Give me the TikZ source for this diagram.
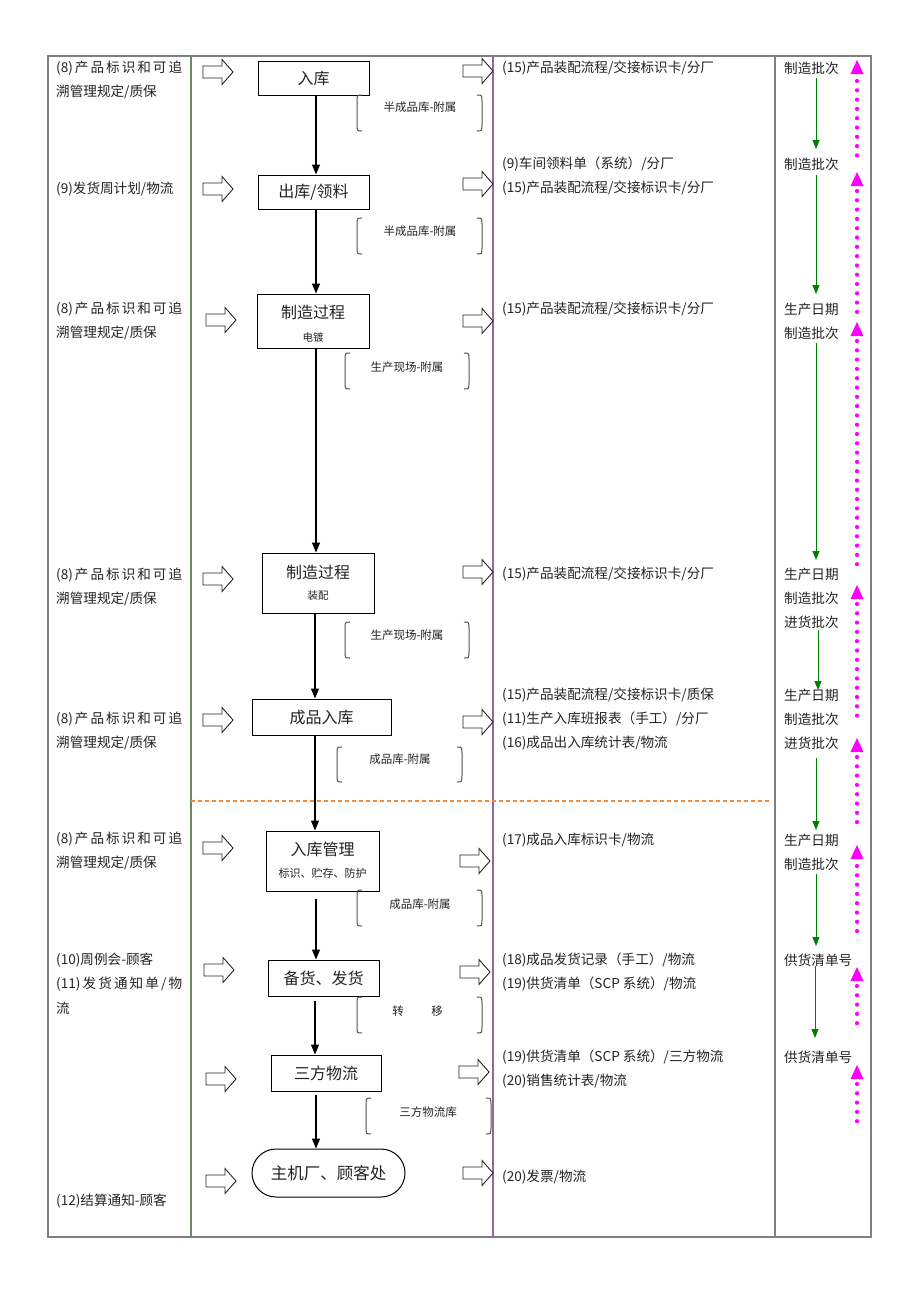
\documentclass[tikz,border=0pt]{standalone}
\usepackage{fontspec}
\setmainfont{Noto Sans CJK SC}
\usetikzlibrary{arrows.meta,shapes.misc}
\definecolor{txt}{RGB}{35,35,35}
\definecolor{framegray}{RGB}{128,128,128}
\definecolor{colgreen}{RGB}{105,135,105}
\definecolor{colpurple}{RGB}{145,105,155}
\definecolor{brkgray}{RGB}{80,80,80}
\definecolor{dashorange}{RGB}{245,140,50}
\definecolor{flowgreen}{RGB}{0,128,0}
\definecolor{mag}{RGB}{255,0,255}
\newcommand{\bracketbox}[4]{%
  \draw[brk] ({#1+5},#2) .. controls (#1,#2) .. (#1,{#2+7}) -- (#1,{#4-7}) .. controls (#1,#4) .. ({#1+5},#4);
  \draw[brk] ({#3-5},#2) .. controls (#3,#2) .. (#3,{#2+7}) -- (#3,{#4-7}) .. controls (#3,#4) .. ({#3-5},#4);
}
\newcommand{\magarrow}[3]{%
  \fill[mag] (857,#1) -- (850.5,{#1+14}) -- (863.5,{#1+14}) -- cycle;
  \draw[mdots] (857,#2) -- (857,#3);
}
\tikzset{
  ctext/.style={font=\fontsize{13.6pt}{15pt}\selectfont, text=txt, inner sep=0pt, anchor=west},
  boxtext/.style={font=\fontsize{16pt}{18pt}\selectfont, text=txt, inner sep=0pt},
  subtext/.style={font=\fontsize{10.5pt}{12pt}\selectfont, text=txt, inner sep=0pt},
  brktext/.style={font=\fontsize{11.5pt}{13pt}\selectfont, text=txt, inner sep=0pt},
  stepbox/.style={draw=black, line width=1pt, rectangle, inner sep=0pt},
  endbox/.style={draw=black, line width=1pt, rounded rectangle, inner sep=0pt},
  flow/.style={draw=black, line width=1.3pt, -{Triangle[length=10pt,width=8pt]}},
  garrow/.style={draw=flowgreen, line width=1pt, -{Triangle[length=9pt,width=7pt]}},
  mdots/.style={draw=mag, line width=4.2pt, line cap=round, dash pattern=on 0pt off 9.3pt},
  brk/.style={draw=brkgray, line width=1pt},
  harrow/.pic={\draw[line width=0.9pt, draw=black!85, fill=white] (0,-6) -- (19,-6) -- (19,-12.5) -- (30,0) -- (19,12.5) -- (19,6) -- (0,6) -- cycle;}
}
\begin{document}
\begin{tikzpicture}[x=1pt,y=-1pt]
\useasboundingbox (0,0) rectangle (920,1302);
\fill[white] (0,0) rectangle (920,1302);
% table
\draw[draw=framegray, line width=1.4pt] (48,56) rectangle (871,1237);
\draw[draw=colgreen, line width=1.3pt] (191,56) -- (191,1237);
\draw[draw=colpurple, line width=1.3pt] (493,56) -- (493,1237);
\draw[draw=framegray, line width=1.3pt] (775,56) -- (775,1237);
\draw[draw=dashorange, line width=1.3pt, dash pattern=on 4pt off 3pt] (191,801) -- (770,801);

% main boxes
\node[stepbox, minimum width=111pt, minimum height=34pt] (b1) at (313.5,78) {};
\node[boxtext] (t1) at (313.5,78) {入库};
\node[stepbox, minimum width=111pt, minimum height=34pt] (b2) at (313.5,192) {};
\node[boxtext] (t2) at (313.5,192) {出库/领料};
\node[stepbox, minimum width=112pt, minimum height=54pt] (b3) at (313,321) {};
\node[boxtext] (t3) at (313,312) {制造过程};
\node[subtext] (s3) at (313,337) {电镀};
\node[stepbox, minimum width=112pt, minimum height=60pt] (b4) at (318,583) {};
\node[boxtext] (t4) at (318,572) {制造过程};
\node[subtext] (s4) at (318,596) {装配};
\node[stepbox, minimum width=139pt, minimum height=36pt] (b5) at (321.5,717) {};
\node[boxtext] (t5) at (321.5,717) {成品入库};
\node[stepbox, minimum width=113pt, minimum height=60pt] (b6) at (322.5,861) {};
\node[boxtext] (t6) at (322.5,849) {入库管理};
\node[subtext, font=\fontsize{11pt}{12pt}\selectfont] (s6) at (322.5,873) {标识、贮存、防护};
\node[stepbox, minimum width=111pt, minimum height=36pt] (b7) at (323.5,978) {};
\node[boxtext] (t7) at (323.5,978) {备货、发货};
\node[stepbox, minimum width=110pt, minimum height=36pt] (b8) at (326,1073) {};
\node[boxtext] (t8) at (326,1073) {三方物流};
\node[endbox, minimum width=153pt, minimum height=48pt] (b9) at (328.5,1173) {};
\node[boxtext, font=\fontsize{16.5pt}{18pt}\selectfont] (t9) at (328.5,1173) {主机厂、顾客处};

% main flow
\coordinate (ax) at (316,0);
\coordinate (ay) at (315,0);
\draw[flow] (b1.south -| ax) -- (b2.north -| ax);
\draw[flow] (b2.south -| ax) -- (b3.north -| ax);
\draw[flow] (b3.south -| ax) -- (b4.north -| ax);
\draw[flow] (b4.south -| ay) -- (b5.north -| ay);
\draw[flow] (b5.south -| ay) -- (b6.north -| ay);
\draw[flow] ([yshift=-7pt]b6.south -| ax) -- (b7.north -| ax);
\draw[flow] ([yshift=-4pt]b7.south -| ay) -- (b8.north -| ay);
\draw[flow] ([yshift=-3pt]b8.south -| ax) -- (b9.north -| ax);

% brackets
\bracketbox{357}{95}{482}{131}
\node[brktext] (k1) at (420,107) {半成品库-附属};
\bracketbox{357}{218}{482}{254}
\node[brktext] (k2) at (420,231) {半成品库-附属};
\bracketbox{345}{353}{469}{389}
\node[brktext] (k3) at (407,367) {生产现场-附属};
\bracketbox{345}{622}{469}{658}
\node[brktext] (k4) at (407,635) {生产现场-附属};
\bracketbox{337}{747}{462}{782}
\node[brktext] (k5) at (400,759) {成品库-附属};
\bracketbox{357}{890}{482}{926}
\node[brktext] (k6) at (420,904) {成品库-附属};
\bracketbox{357}{997}{482}{1033}
\node[brktext] (k7a) at (398,1011) {转};
\node[brktext] (k7b) at (437,1011) {移};
\bracketbox{366}{1098}{491}{1134}
\node[brktext] (k8) at (428,1112) {三方物流库};

% block arrows left
\foreach \yy/\xx in {72/203, 189/203, 320/206, 579/203, 720/203, 848/203, 970/204, 1079/206, 1181/206}
  \pic at (\xx,\yy) {harrow};
% block arrows right
\foreach \yy/\xx in {71/463, 184/463, 321/463, 572/463, 722/463, 861/460, 972/460, 1072/459, 1173/463}
  \pic at (\xx,\yy) {harrow};

% left column texts
\node[ctext] (l1a) at (56,68) {\makebox[126pt][s]{(8)\hfill 产\hfill 品\hfill 标\hfill 识\hfill 和\hfill 可\hfill 追}};
\node[ctext] (l1b) at (56,92) {溯管理规定/质保};
\node[ctext] (l2) at (56,189) {(9)发货周计划/物流};
\node[ctext] (l3a) at (56,309) {\makebox[126pt][s]{(8)\hfill 产\hfill 品\hfill 标\hfill 识\hfill 和\hfill 可\hfill 追}};
\node[ctext] (l3b) at (56,333) {溯管理规定/质保};
\node[ctext] (l4a) at (56,575) {\makebox[126pt][s]{(8)\hfill 产\hfill 品\hfill 标\hfill 识\hfill 和\hfill 可\hfill 追}};
\node[ctext] (l4b) at (56,599) {溯管理规定/质保};
\node[ctext] (l5a) at (56,719) {\makebox[126pt][s]{(8)\hfill 产\hfill 品\hfill 标\hfill 识\hfill 和\hfill 可\hfill 追}};
\node[ctext] (l5b) at (56,743) {溯管理规定/质保};
\node[ctext] (l6a) at (56,839) {\makebox[126pt][s]{(8)\hfill 产\hfill 品\hfill 标\hfill 识\hfill 和\hfill 可\hfill 追}};
\node[ctext] (l6b) at (56,863) {溯管理规定/质保};
\node[ctext] (l7a) at (56,960) {(10)周例会-顾客};
\node[ctext] (l7b) at (56,984) {\makebox[126pt][s]{(11)\hfill 发\hfill 货\hfill 通\hfill 知\hfill 单\hfill /\hfill 物}};
\node[ctext] (l7c) at (56,1008) {流};
\node[ctext] (l8) at (56,1201) {(12)结算通知-顾客};

% third column texts
\node[ctext] (r1) at (502,68) {(15)产品装配流程/交接标识卡/分厂};
\node[ctext] (r2a) at (502,164) {(9)车间领料单（系统）/分厂};
\node[ctext] (r2b) at (502,188) {(15)产品装配流程/交接标识卡/分厂};
\node[ctext] (r3) at (502,309) {(15)产品装配流程/交接标识卡/分厂};
\node[ctext] (r4) at (502,574) {(15)产品装配流程/交接标识卡/分厂};
\node[ctext] (r5a) at (502,695) {(15)产品装配流程/交接标识卡/质保};
\node[ctext] (r5b) at (502,719) {(11)生产入库班报表（手工）/分厂};
\node[ctext] (r5c) at (502,743) {(16)成品出入库统计表/物流};
\node[ctext] (r6) at (502,840) {(17)成品入库标识卡/物流};
\node[ctext] (r7a) at (502,960) {(18)成品发货记录（手工）/物流};
\node[ctext] (r7b) at (502,984) {(19)供货清单（SCP 系统）/物流};
\node[ctext] (r8a) at (502,1057) {(19)供货清单（SCP 系统）/三方物流};
\node[ctext] (r8b) at (502,1081) {(20)销售统计表/物流};
\node[ctext] (r9) at (502,1177) {(20)发票/物流};

% fourth column texts
\node[ctext] (q1) at (784,68) {制造批次};
\node[ctext] (q2) at (784,164) {制造批次};
\node[ctext] (q3a) at (784,309) {生产日期};
\node[ctext] (q3b) at (784,333) {制造批次};
\node[ctext] (q4a) at (784,574) {生产日期};
\node[ctext] (q4b) at (784,598) {制造批次};
\node[ctext] (q4c) at (784,622) {进货批次};
\node[ctext] (q5a) at (784,695) {生产日期};
\node[ctext] (q5b) at (784,719) {制造批次};
\node[ctext] (q5c) at (784,743) {进货批次};
\node[ctext] (q6a) at (784,840) {生产日期};
\node[ctext] (q6b) at (784,864) {制造批次};
\node[ctext] (q7) at (784,960) {供货清单号};
\node[ctext] (q8) at (784,1057) {供货清单号};

% green down arrows
\draw[garrow] (816,78) -- (816,149);
\draw[garrow] (816,175) -- (816,294);
\draw[garrow] (816,343) -- (816,560);
\draw[garrow] (818,630) -- (818,690);
\draw[garrow] (816,758) -- (816,830);
\draw[garrow] (816,874) -- (816,946);
\draw[garrow] (815,966) -- (815,1038);

% magenta dotted up arrows
\magarrow{60}{81}{157}
\magarrow{172}{191}{313}
\magarrow{322}{341}{568}
\magarrow{585}{604}{722}
\magarrow{738}{757}{830}
\magarrow{845}{866}{938}
\magarrow{967}{986}{1028}
\magarrow{1065}{1084}{1127}
\end{tikzpicture}
\end{document}
